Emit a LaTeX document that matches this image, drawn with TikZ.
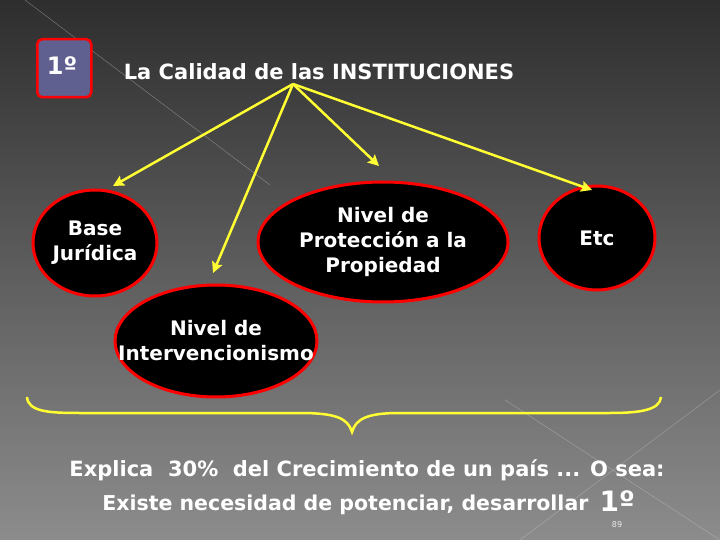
\documentclass[tikz,border=0pt]{standalone}
\usepackage{fontspec}
\setmainfont{DejaVu Sans}
\usetikzlibrary{shapes.geometric,arrows.meta}
\definecolor{boxblue}{HTML}{5F5F90}
\definecolor{yel}{HTML}{FFFF33}
\begin{document}
\begin{tikzpicture}[x=1pt,y=-1pt,
  ov/.style={ellipse,draw=red,line width=3pt,fill=black,inner sep=0pt},
  ovt/.style={text=white,font=\bfseries\fontsize{20}{25}\selectfont,align=center},
  arr/.style={draw=yel,line width=2.5pt,-{Stealth[length=11pt,width=11pt,inset=2pt]}},
  txt/.style={text=white,font=\bfseries}]
\shade[top color=black!82,bottom color=black!45] (0,0) rectangle (720,540);
\useasboundingbox (0,0) rectangle (720,540);
\draw[white!60!gray,opacity=0.5,line width=0.4pt] (25,0) -- (270,185);
\draw[white!60!gray,opacity=0.5,line width=0.4pt] (505,400) -- (720,540);
\draw[white!60!gray,opacity=0.5,line width=0.4pt] (520,540) -- (720,390);
\node[draw=red,line width=2.5pt,fill=boxblue,rounded corners=5pt,minimum width=54pt,minimum height=58pt,anchor=north west] (one) at (36,38) {};
\node[txt,font=\bfseries\fontsize{24}{26}\selectfont] (onet) at (62,66) {1º};
\node[txt,font=\bfseries\fontsize{21}{25}\selectfont] (title) at (319,72) {La Calidad de las INSTITUCIONES};
\coordinate (apex) at (293,84);
\node[ov,minimum width=124pt,minimum height=106pt] (base) at (95,243) {};
\node[ovt] (baset) at (95,243) {Base\\Jurídica};
\node[ov,minimum width=250pt,minimum height=120pt] (prot) at (383,242) {};
\node[ovt] (prott) at (383,242) {Nivel de\\Protección a la\\Propiedad};
\node[ov,minimum width=116pt,minimum height=104pt] (etc) at (597,238) {};
\node[ovt] (etct) at (597,238) {Etc};
\node[ov,minimum width=202pt,minimum height=112pt] (interv) at (216,341) {};
\node[ovt] (intervt) at (216,341) {Nivel de\\Intervencionismo};
\coordinate (t1) at (113,186);
\coordinate (t2) at (213,273);
\coordinate (t3) at (379,166);
\coordinate (t4) at (592,190);
\draw[arr] (apex) -- (t1);
\draw[arr] (apex) -- (t2);
\draw[arr] (apex) -- (t3);
\draw[arr] (apex) -- (t4);
\coordinate (bl) at (27,397);
\coordinate (br) at (661,397);
\coordinate (bt) at (352,432);
\draw[yel,line width=2.5pt] (bl) .. controls (28,412) and (50,413) .. (80,413) -- (300,413) .. controls (335,413) and (348,418) .. (bt) .. controls (356,418) and (369,413) .. (400,413) -- (610,413) .. controls (640,413) and (660,410) .. (br);
\node[txt,font=\bfseries\fontsize{21}{25}\selectfont] (l1) at (367,470) {Explica\ \ 30\%\ \ del Crecimiento de un país ... O sea:};
\node[txt,font=\bfseries\fontsize{20.5}{25}\selectfont,anchor=base east] (l2) at (592,510) {Existe necesidad de potenciar, desarrollar};
\node[txt,font=\bfseries\fontsize{28}{30}\selectfont,anchor=base west] (l2b) at (596,511) {1º};
\node[text=white!85!gray,font=\fontsize{8}{9}\selectfont] (pg) at (617,525) {89};
\end{tikzpicture}
\end{document}
